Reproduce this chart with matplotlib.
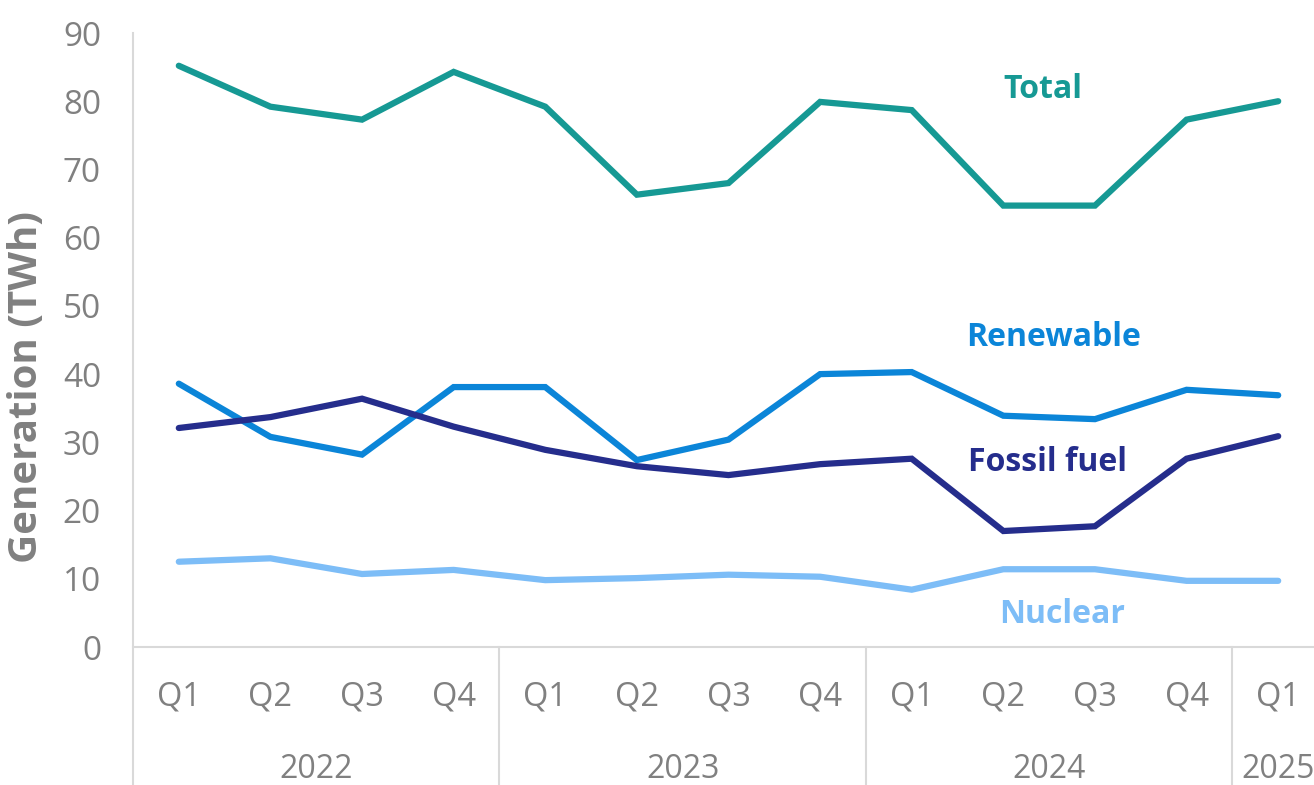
import matplotlib.pyplot as plt

# Quarterly electricity generation (TWh)
quarters = ["Q1", "Q2", "Q3", "Q4", "Q1", "Q2", "Q3", "Q4", "Q1", "Q2", "Q3", "Q4", "Q1"]
years = ["2022", "2023", "2024", "2025"]
year_quarters = [4, 4, 4, 1]

total = [85.2, 79.2, 77.3, 84.3, 79.2, 66.3, 68.0, 79.9, 78.7, 64.7, 64.7, 77.3, 80.0]
renewable = [38.6, 30.8, 28.2, 38.1, 38.1, 27.4, 30.4, 40.0, 40.3, 33.9, 33.4, 37.7, 36.9]
fossil = [32.1, 33.7, 36.4, 32.3, 28.9, 26.5, 25.2, 26.8, 27.6, 17.0, 17.7, 27.6, 30.9]
nuclear = [12.5, 13.0, 10.7, 11.3, 9.8, 10.1, 10.6, 10.3, 8.4, 11.4, 11.4, 9.7, 9.7]

series_names = ["Total", "Renewable", "Fossil fuel", "Nuclear"]
colors = ["#169994", "#0b85d8", "#252d8c", "#7dbdf7"]
grey = "#808080"
axis_grey = "#d9d9d9"

plt.rcParams["font.family"] = ["Open Sans", "DejaVu Sans"]

fig = plt.figure(figsize=(13.14, 7.85), dpi=100)
ax = fig.add_axes([133 / 1314, 138 / 785, 1191 / 1314, 614 / 785])

x = list(range(len(quarters)))
for vals, c in zip([total, renewable, fossil, nuclear], colors):
    ax.plot(x, vals, color=c, lw=4.5, solid_joinstyle="miter", solid_capstyle="round")

ax.set_xlim(-0.5, len(quarters) - 0.5)
ax.set_ylim(0, 90)
ax.set_yticks(range(0, 91, 10))
ax.tick_params(axis="y", length=0, pad=23, labelsize=24, labelcolor=grey)
ax.set_xticks(x)
ax.set_xticklabels(quarters)
ax.tick_params(axis="x", length=0, pad=24, labelsize=23.5, labelcolor=grey)

for s in ["top", "right"]:
    ax.spines[s].set_visible(False)
ax.spines["left"].set_visible(False)
ax.spines["bottom"].set_color(axis_grey)
ax.spines["bottom"].set_linewidth(1.5)

# category separators (left axis line runs down through the labels)
trans = ax.get_xaxis_transform()
depth = -138 / 614
ax.plot([-0.5, -0.5], [depth, 1.0], color=axis_grey, lw=1.5, transform=trans, clip_on=False)
start = 0
for yr, n in zip(years, year_quarters):
    if start > 0:
        ax.plot([start - 0.5] * 2, [depth, 0], color=axis_grey, lw=1.5, transform=trans, clip_on=False)
    ax.text(start + (n - 1) / 2, -0.2, yr, transform=trans, ha="center", va="center",
            fontsize=23, color=grey, clip_on=False)
    start += n

ax.set_ylabel("Generation (TWh)", fontsize=29, fontweight="bold", color=grey)
ax.yaxis.set_label_coords(-0.073, 0.423)

# series labels
label_pos = [(9.43, 81.7), (9.55, 45.3), (9.48, 27.1), (9.64, 4.8)]
for name, c, (lx, ly) in zip(series_names, colors, label_pos):
    ax.text(lx, ly, name, color=c, fontsize=23, fontweight="bold", ha="center", va="center")

fig.savefig("out.png", dpi=100)
